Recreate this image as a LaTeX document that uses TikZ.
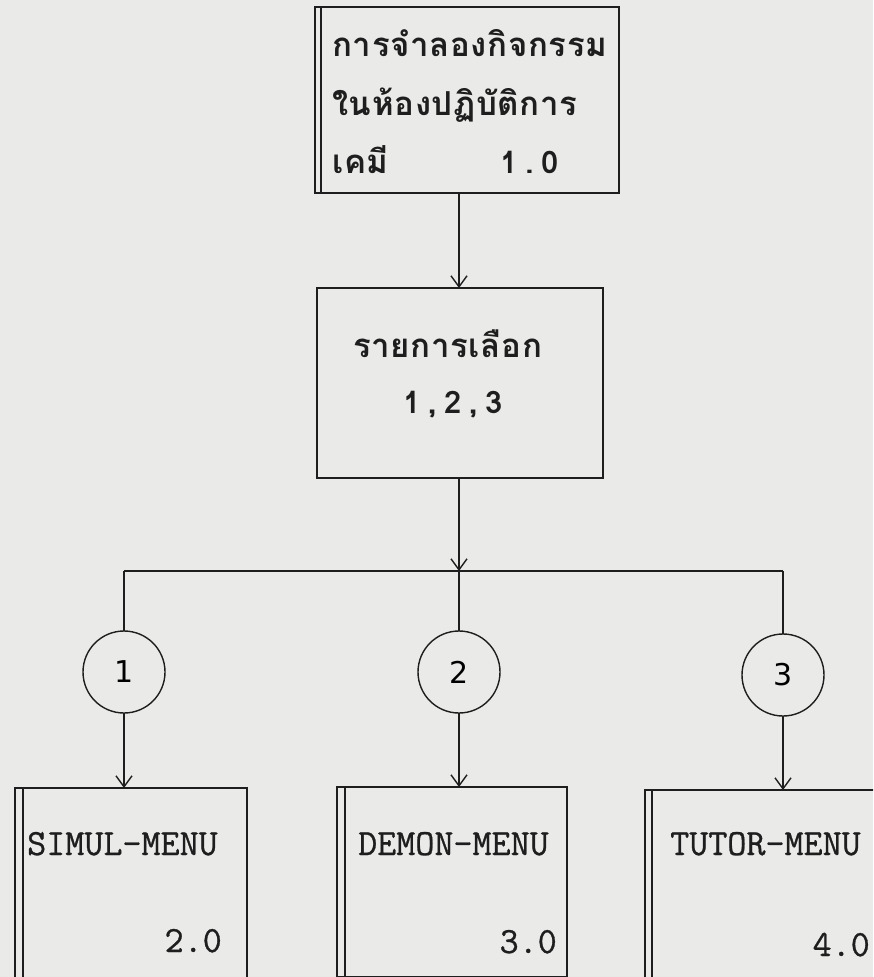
\documentclass[tikz,border=0pt]{standalone}
\usepackage{fontspec}
\newfontfamily\thaifont[Script=Thai,LetterSpace=2]{Loma}
\newfontfamily\thainum[Script=Thai,LetterSpace=25]{Loma}
\newfontfamily\typefont[FakeBold=0.8]{Latin Modern Mono}
\newfontfamily\handfont{DejaVu Sans}
\usetikzlibrary{arrows.meta}
\definecolor{paper}{RGB}{234,234,232}
\definecolor{ink}{RGB}{30,30,30}
\tikzset{
  box/.style={draw=ink, line width=1.6pt, anchor=north west, inner sep=0pt, outer sep=0pt},
  bar/.style={draw=ink, line width=1.4pt},
  conn/.style={draw=ink, line width=1.6pt},
  arr/.style={conn, -{Straight Barb[length=11pt,width=16pt,line width=1.4pt]}},
  bubble/.style={circle, draw=ink, line width=1.4pt, minimum size=82pt, inner sep=0pt, outer sep=0pt, font=\handfont\fontsize{30}{30}\selectfont},
  thaitext/.style={inner sep=0pt, anchor=base west, text=ink, font=\thaifont\bfseries\fontsize{33}{33}\selectfont},
  thainumber/.style={inner sep=0pt, anchor=base west, text=ink, font=\thainum\bfseries\fontsize{31}{31}\selectfont},
  ttext/.style={inner sep=0pt, text=ink, font=\typefont\fontsize{37}{37}\selectfont},
}
\begin{document}
\begin{tikzpicture}[x=1pt,y=-1pt]
\useasboundingbox (0,0) rectangle (873,977);
\fill[paper] (0,0) rectangle (873,977);
\clip (0,0) rectangle (873,977);

% top box
\node[box, minimum width=304pt, minimum height=186pt] (top) at (315,7) {};
\draw[bar] ([xshift=6pt]top.north west) -- ([xshift=6pt]top.south west);
\node[thaitext] (t1) at (332,56) {การจำลองกิจกรรม};
\node[thaitext] (t2) at (332,115) {ในห้องปฏิบัติการ};
\node[thaitext] (t3) at (332,173) {เคมี};
\node[thainumber] (t4) at (500,173) {1.0};

% menu box
\node[box, minimum width=286pt, minimum height=190pt] (menu) at (317,288) {};
\node[thaitext, anchor=base west] (m1) at (353,357) {รายการเลือก};
\node[thainumber, anchor=base west] (m2) at (403,413) {1,2,3};

% junctions
\coordinate (jL) at (124,571);
\coordinate (jM) at (459,571);
\coordinate (jR) at (783,571);

% circles
\node[bubble] (c1) at (124,672) {1};
\node[bubble] (c2) at (459,672) {2};
\node[bubble] (c3) at (783,675) {3};

% bottom boxes
\node[box, minimum width=232pt, minimum height=190pt] (b1) at (15,788) {};
\draw[bar] ([xshift=8pt]b1.north west) -- ([xshift=8pt]b1.south west);
\node[ttext, anchor=base west] (s1) at (27,855) {SIMUL-MENU};
\node[ttext, anchor=base east] (s2) at (222,952) {2.0};

\node[box, minimum width=230pt, minimum height=190pt] (b2) at (337,787) {};
\draw[bar] ([xshift=8pt]b2.north west) -- ([xshift=8pt]b2.south west);
\node[ttext, anchor=base west] (d1) at (358,855) {DEMON-MENU};
\node[ttext, anchor=base east] (d2) at (557,953) {3.0};

\node[box, minimum width=240pt, minimum height=190pt] (b3) at (645,790) {};
\draw[bar] ([xshift=7pt]b3.north west) -- ([xshift=7pt]b3.south west);
\node[ttext, anchor=base west] (u1) at (670,855) {TUTOR-MENU};
\node[ttext, anchor=base east] (u2) at (870,956) {4.0};

% connectors
\draw[arr] (top.south -| jM) -- (menu.north -| jM);
\draw[arr] (menu.south -| jM) -- (jM);
\draw[conn] (jL) -- (jR);
\draw[conn] (jL) -- (c1);
\draw[conn] (jM) -- (c2);
\draw[conn] (jR) -- (c3);
\draw[arr] (c1) -- (b1.north -| c1);
\draw[arr] (c2) -- (b2.north -| c2);
\draw[arr] (c3) -- (b3.north -| c3);
\end{tikzpicture}
\end{document}
